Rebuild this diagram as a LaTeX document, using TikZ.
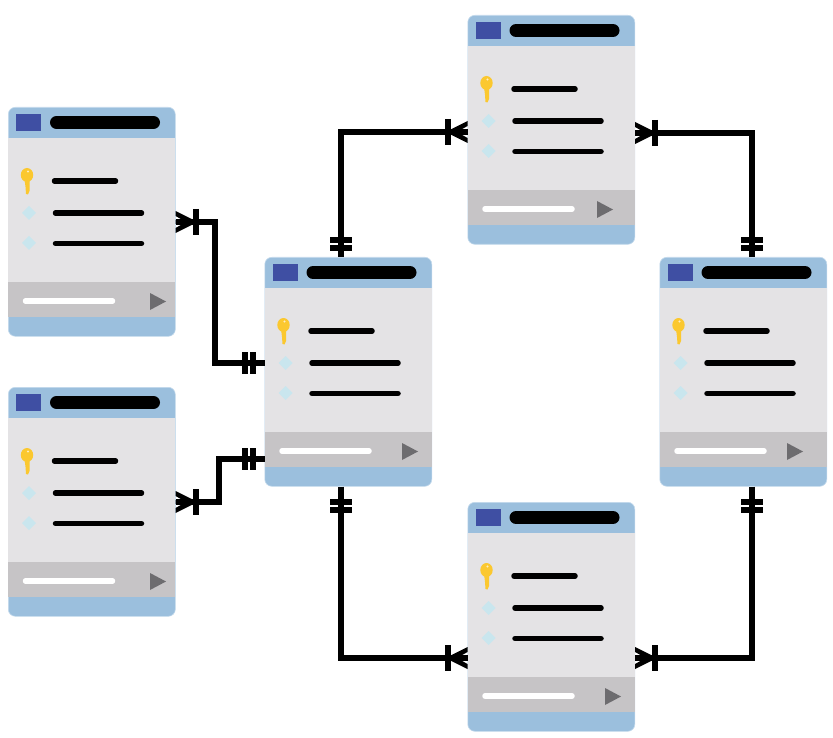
\documentclass[tikz,border=0pt]{standalone}
\definecolor{headblue}{HTML}{9BBFDD}
\definecolor{edgeblue}{HTML}{C4DAEC}
\definecolor{squareblue}{HTML}{3F4FA3}
\definecolor{bodygrey}{HTML}{E4E3E5}
\definecolor{footgrey}{HTML}{C6C4C6}
\definecolor{playgrey}{HTML}{6D6C6F}
\definecolor{diamondblue}{HTML}{C9E6EE}
\definecolor{keygold}{HTML}{FBC82F}
\tikzset{
  x=1pt,y=-1pt,
  tablebox/.style={rectangle,anchor=north west,inner sep=0pt,minimum width=167pt,minimum height=229pt,rounded corners=7pt,fill=headblue,draw=edgeblue,line width=0.6pt},
  textline/.style={line width=5.5pt,line cap=round,black},
  whiteline/.style={line width=5.5pt,line cap=round,white},
  titlebar/.style={line width=13pt,line cap=round,black},
  link/.style={line width=5.5pt,black,line join=miter},
  tick/.style={line width=6pt,black},
  crowfoot/.pic={\fill[black] (0,-11)--(20,-1)--(20,1)--(0,11)--(0,6)--(7,2)--(0,2)--(0,-2)--(7,-2)--(0,-6)--cycle;
     \draw[tick] (20,-13)--(20,13);},
  twobars/.pic={\draw[tick] (-4,-11)--(-4,11) (4,-11)--(4,11);}
}
% name, x, y, x offset of the play triangle
\newcommand{\dbtable}[4]{%
  \node[tablebox] (#1) at (#2,#3) {};
  \begin{scope}[shift={(#2,#3)}]
    \fill[bodygrey] (0,31) rectangle (167,175);
    \fill[footgrey] (0,175) rectangle (167,210);
    \fill[squareblue] (8,7) rectangle (33,24);
    \draw[titlebar] (48.5,15.5)--(145.5,15.5);
    % key
    \fill[keygold] (19,68) ellipse[x radius=6.2,y radius=7];
    \fill[keygold] (16.5,72)--(21.5,72)--(21.5,84)--(20,87.5)--(18,87)--(17.5,80)--cycle;
    \fill[white!70!keygold] (20,64.5) circle[radius=1.2];
    \draw[textline] (46.5,74)--(107.5,74);
    \fill[diamondblue] (21,99)--(28,106)--(21,113)--(14,106)--cycle;
    \draw[textline] (47.5,106)--(133.5,106);
    \fill[diamondblue] (21,129)--(28,136)--(21,143)--(14,136)--cycle;
    \draw[textline] (47.5,136.5)--(133.5,136.5);
    \draw[whiteline] (17.5,194)--(104.5,194);
    \fill[playgrey] (#4,186)--(#4+16,194.5)--(#4,203)--cycle;
  \end{scope}}
\begin{document}
\begin{tikzpicture}
\useasboundingbox (0,0) rectangle (833,738);
\dbtable{ta}{8}{107}{142}
\dbtable{tb}{8}{387}{142}
\dbtable{tc}{264.5}{257}{137.5}
\dbtable{td}{467.5}{15}{129.5}
\dbtable{te}{659.5}{257}{127.5}
\dbtable{tf}{467.5}{502}{137.5}
% ports on the tables
\coordinate (ap) at (ta.north east |- 0,222);
\coordinate (bp) at (tb.north east |- 0,502);
\coordinate (ca) at (tc.north west |- 0,363);
\coordinate (cb) at (tc.north west |- 0,459);
\coordinate (cd) at (tc.north west -| 341,0);
\coordinate (cf) at (tc.south west -| 341,0);
\coordinate (dc) at (td.north west |- 0,132);
\coordinate (de) at (td.north east |- 0,133);
\coordinate (ed) at (te.north west -| 752,0);
\coordinate (ef) at (te.south west -| 752,0);
\coordinate (fc) at (tf.north west |- 0,658);
\coordinate (fe) at (tf.north east |- 0,658);
% connectors
\draw[link] (ap) -- (215,222) -- (215,363) -- (ca);
\draw[link] (bp) -- (219,502) -- (219,459) -- (cb);
\draw[link] (cd) -- (341,132) -- (dc);
\draw[link] (de) -- (752,133) -- (ed);
\draw[link] (cf) -- (341,658) -- (fc);
\draw[link] (ef) -- (752,658) -- (fe);
% crow's feet
\pic at (ap) {crowfoot};
\pic at (bp) {crowfoot};
\pic[xscale=-1] at (dc) {crowfoot};
\pic at (de) {crowfoot};
\pic[xscale=-1] at (fc) {crowfoot};
\pic at (fe) {crowfoot};
% double bars
\pic at (249,363) {twobars};
\pic at (249,459) {twobars};
\pic[rotate=90] at (341,244) {twobars};
\pic[rotate=90] at (752,244) {twobars};
\pic[rotate=90] at (341,506) {twobars};
\pic[rotate=90] at (752,506) {twobars};
\end{tikzpicture}
\end{document}
